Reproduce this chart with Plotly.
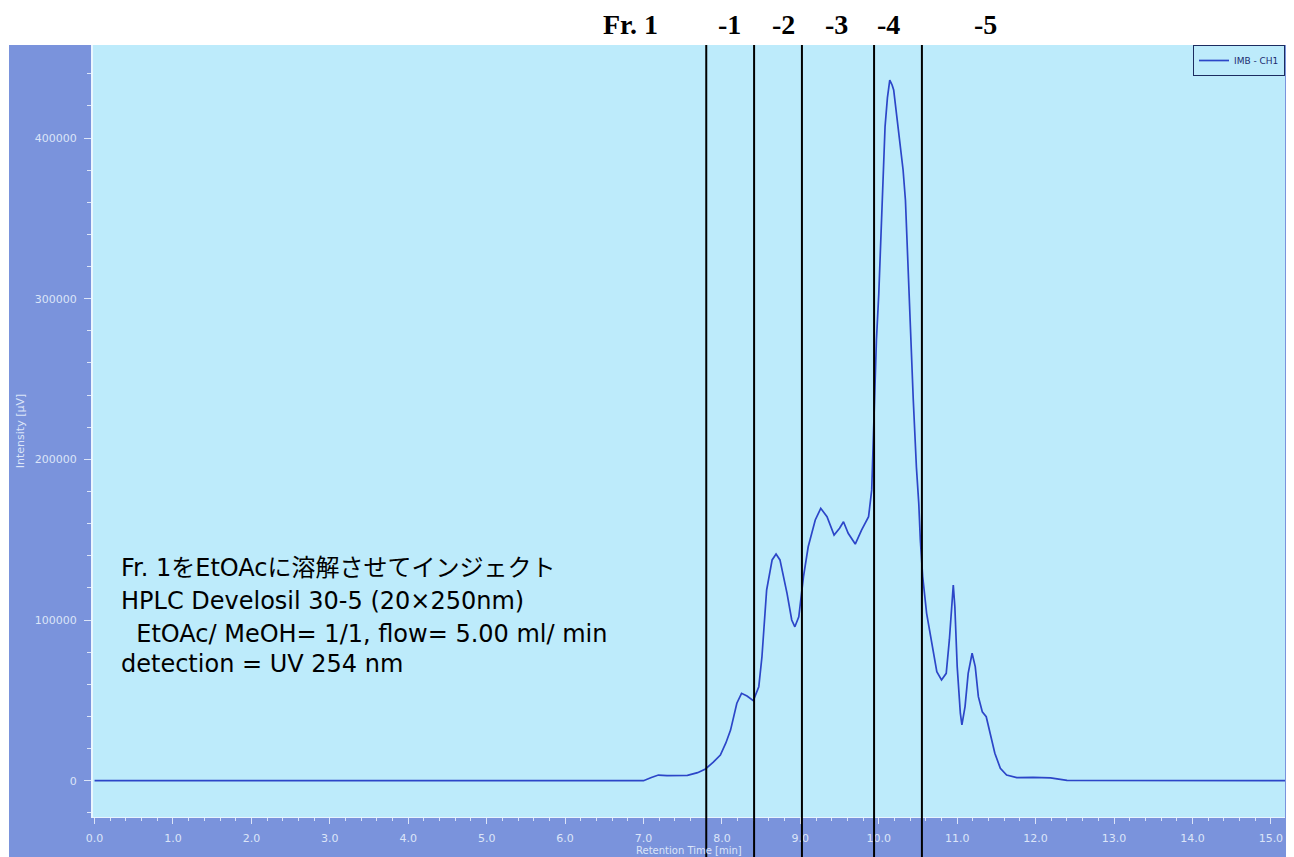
import plotly.graph_objects as go

# ---- data ----
retention_time = [0.0, 7.00, 7.10, 7.19, 7.30, 7.45, 7.56, 7.69, 7.79, 7.89, 7.98, 8.05, 8.11,
                  8.19, 8.25, 8.32, 8.40, 8.47, 8.51, 8.57, 8.64, 8.69, 8.74, 8.83, 8.89, 8.93,
                  8.98, 9.04, 9.10, 9.19, 9.26, 9.34, 9.43, 9.50, 9.55, 9.61, 9.70, 9.78, 9.87,
                  9.91, 9.94, 9.97, 10.00, 10.03, 10.05, 10.08, 10.11, 10.14, 10.17, 10.19,
                  10.23, 10.28, 10.31, 10.34, 10.36, 10.39, 10.42, 10.44, 10.48, 10.51, 10.53,
                  10.56, 10.61, 10.68, 10.74, 10.80, 10.86, 10.90, 10.93, 10.95, 10.97, 11.00,
                  11.04, 11.06, 11.10, 11.14, 11.19, 11.23, 11.27, 11.32, 11.37, 11.42, 11.48,
                  11.55, 11.63, 11.76, 11.97, 12.19, 12.31, 12.40, 15.20]
intensity = [0, 0, 2000, 3500, 3200, 3100, 3300, 5000, 7300, 11500, 16000, 23500, 31500,
             48200, 54400, 52700, 49800, 58500, 77000, 118700, 137400, 141100, 137400, 116600,
             100000, 95800, 102000, 127000, 145600, 162300, 169500, 164300, 152900, 157100,
             161200, 154000, 147300, 156000, 164300, 181000, 230700, 274300, 303000, 340000,
             376000, 407000, 425000, 436100, 433000, 429900, 413300, 392600, 380100, 361300,
             335000, 299200, 268100, 236900, 195000, 172600, 149800, 127000, 104200, 83400,
             67800, 62700, 66800, 87600, 108300, 121800, 108300, 71000, 42000, 34700, 46100,
             66800, 79300, 71000, 52300, 42900, 39800, 29500, 17100, 7700, 3500, 1900, 2100,
             1800, 1100, 200, 0]

fraction_boundaries = [7.80, 8.41, 9.02, 9.94, 10.55]
fraction_labels = ["Fr. 1", "-1", "-2", "-3", "-4", "-5"]
fraction_label_x = [6.83, 8.10, 8.78, 9.46, 10.13, 11.36]

x_tick_vals = [float(i) for i in range(16)]
x_tick_text = [f"{v:.1f}" for v in x_tick_vals]
y_tick_vals = [0, 100000, 200000, 300000, 400000]
y_tick_text = ["0", "100000", "200000", "300000", "400000"]

note_lines = [
    "Fr. 1をEtOAcに溶解させてインジェクト",
    "HPLC Develosil 30-5 (20×250nm)",
    "&nbsp;&nbsp;EtOAc/ MeOH= 1/1, flow= 5.00 ml/ min",
    "detection = UV 254 nm",
]

# ---- geometry in page pixels (page has an 8px body margin) ----
OFF = 8
PAGE_W, PAGE_H = 1294, 857
W, H = PAGE_W - OFF, PAGE_H - OFF
PL, PR, PT, PB = 93, 1285, 45, 817


def px_x(px):
    return (px - PL) / (PR - PL)


def px_y(py):
    return (PB - py) / (PB - PT)


OUTER = "#7A93DC"
PLOTBG = "#BDEBFB"
TICKC = "#DCE5F8"
LINEC = "#2C46C8"

fig = go.Figure()
fig.add_trace(go.Scatter(
    x=retention_time, y=intensity, mode="lines", name="IMB - CH1",
    line=dict(color=LINEC, width=1.7),
))

shapes = [
    dict(type="rect", xref="paper", yref="paper", x0=-0.2, x1=1.2, y0=1.0, y1=1.2,
         fillcolor="white", line=dict(width=0), layer="below"),
    dict(type="rect", xref="paper", yref="paper", x0=-0.2, x1=px_x(9), y0=-0.2, y1=1.2,
         fillcolor="white", line=dict(width=0), layer="below"),
]
for xb in fraction_boundaries:
    shapes.append(dict(type="line", xref="x", yref="paper", x0=xb, x1=xb,
                       y0=px_y(PAGE_H + 2), y1=1.0, line=dict(color="black", width=2),
                       layer="above"))

annotations = []
for lab, lx in zip(fraction_labels, fraction_label_x):
    annotations.append(dict(x=lx, y=px_y(25), xref="x", yref="paper", text=f"<b>{lab}</b>",
                            showarrow=False, xanchor="center", yanchor="middle",
                            font=dict(family="Liberation Serif", size=28, color="black")))

note_y = [568, 601, 634, 664]
for txt, ny in zip(note_lines, note_y):
    annotations.append(dict(x=px_x(119), y=px_y(ny), xref="paper", yref="paper", text=txt,
                            showarrow=False, xanchor="left", yanchor="middle",
                            font=dict(family="DejaVu Sans, Noto Sans CJK JP", size=24,
                                      color="black")))

# x-axis title placed like the (partly clipped) original
annotations.append(dict(x=0.5, y=px_y(850), xref="paper", yref="paper",
                        text="Retention Time [min]", showarrow=False,
                        xanchor="center", yanchor="middle",
                        font=dict(family="DejaVu Sans", size=10, color=TICKC)))

fig.update_layout(
    width=W, height=H,
    margin=dict(l=PL - OFF, r=W - (PR - OFF), t=PT - OFF, b=H - (PB - OFF), pad=0),
    paper_bgcolor=OUTER, plot_bgcolor=PLOTBG,
    shapes=shapes, annotations=annotations,
    showlegend=True,
    legend=dict(x=1.0, xanchor="right", y=1.0, yanchor="top",
                bgcolor=PLOTBG, bordercolor="#1C2C60", borderwidth=1,
                font=dict(family="DejaVu Sans", size=9, color="#1C2C70"),
                itemwidth=30, tracegroupgap=0),
    font=dict(family="DejaVu Sans"),
)

fig.update_xaxes(
    range=[-0.02, 15.18], tickvals=x_tick_vals, ticktext=x_tick_text,
    showgrid=False, zeroline=False, showline=True, linecolor="#E8F4FF", linewidth=1,
    ticks="outside", ticklen=6, tickcolor=TICKC, ticklabelstandoff=5,
    tickfont=dict(family="DejaVu Sans", size=11, color=TICKC),
    minor=dict(dtick=0.2, ticks="outside", ticklen=3, tickcolor=TICKC, showgrid=False),
    automargin=False,
)
fig.update_yaxes(
    range=[-22600, 457900], tickvals=y_tick_vals, ticktext=y_tick_text,
    showgrid=False, zeroline=False, showline=True, linecolor="#EAF6FF", linewidth=2,
    ticks="outside", ticklen=7, tickcolor=TICKC, ticklabelstandoff=5,
    tickfont=dict(family="DejaVu Sans", size=11, color=TICKC),
    minor=dict(dtick=20000, ticks="outside", ticklen=4, tickcolor=TICKC, showgrid=False),
    title=dict(text="Intensity [µV]", font=dict(family="DejaVu Sans", size=11, color=TICKC),
               standoff=8),
    automargin=False,
)

fig.write_html("out.html")
